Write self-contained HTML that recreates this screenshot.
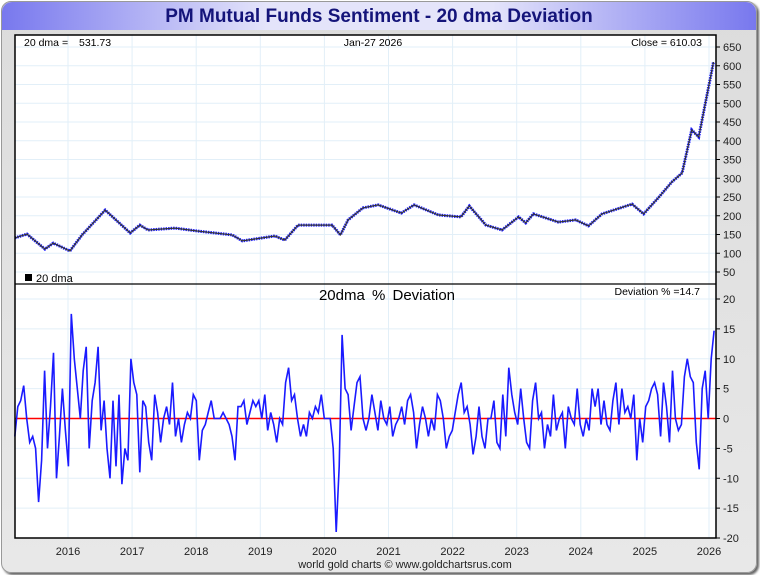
<!DOCTYPE html>
<html><head><meta charset="utf-8"><style>
body{margin:0;width:760px;height:575px;overflow:hidden;font-family:"Liberation Sans",sans-serif;background:#fff}
#frame{position:absolute;left:1px;top:1px;width:754px;height:570px;border-radius:10px;background:linear-gradient(#dcdcdc,#e8e8e8);border:1px solid #999;box-shadow:2px 2px 2px #666}
#title{position:absolute;left:0;top:0;width:754px;height:28px;border-radius:10px 10px 0 0;background:linear-gradient(90deg,#7878ee,#e4e4fa 35%,#e4e4fa 65%,#7878ee);text-align:center;font-weight:bold;font-size:19px;line-height:30px;color:#14147a}
svg{position:absolute;left:0;top:0}
</style></head><body>
<div id="frame"><div id="title">PM Mutual Funds Sentiment - 20 dma Deviation</div></div>
<svg id="c" width="760" height="575"></svg>
<script>
const priceYears=[2015.17,2015.36,2015.64,2015.77,2016.03,2016.22,2016.58,2016.97,2017.12,2017.25,2017.67,2018.03,2018.56,2018.72,2019.23,2019.38,2019.59,2020.12,2020.25,2020.37,2020.6,2020.84,2021.2,2021.4,2021.78,2022.13,2022.26,2022.52,2022.77,2023.03,2023.14,2023.26,2023.65,2023.92,2024.12,2024.33,2024.8,2024.98,2025.22,2025.42,2025.58,2025.73,2025.84,2026.07];
const priceVals=[141,151,111,127,106,149,215,154,175,162,167,159,149,133,146,135,175,175,149,189,221,229,207,229,202,197,226,175,162,197,181,205,183,189,173,205,231,205,250,290,314,429,410,610];
const devVals=[-3,2,3,5.5,0,-4,-3,-5,-14,-7,8,-5,2,11,-10,-3,5,-2,-8,17.5,10,5,0,8,12,-5,3,6,12,-2,3,-5,-10,3,-8,4,-11,-5,-7,10,6,4,-9,3,2,-4,-7,4,1,-4,0,2,-1,6,-3,0,-4,-1,1,0,4,3,-7,-2,-1,1,3,0,0,0,1,0,-1,-3,-7,2,2,3,-1,1,
3,2,3,0,4,-2,1,-1,-4,0,-1,6,8.5,3,4,0,-3,-1,-3,1,0,2,1,4,0,0,0,-5,-19,-8,14,5,4,-2,2,6,7,0,-2,0,4,1,-2,3,0,-1,2,-3,-1,0,2,-1,3,4,1,-5,-1,2,0,-3,0,-2,4,3,0,-5,-3,-2,1,4,6,1,2,-1,-6,-3,2,-3,-5,0,
0,3,-4,-5,4,-3,8.5,4,1,-1,5,0,-4,-5,3,6,0,1,-5,-1,-3,4,-2,0,1,-5,2,0,-1,5,-1,-3,0,-2,5,2,5,-1,3,-1,-2,3,6,-1,5,1,2,0,4,-7,0,-4,2,3,5,6,4,-3,6,2,-4,8,0,-2,-1,7,10,7,6,-4,-8.5,5,8,0,10,14.7];
const devStart=2015.17, devEnd=2026.08;
const yearTicks=[2016,2017,2018,2019,2020,2021,2022,2023,2024,2025,2026];
const priceTicks=[50,100,150,200,250,300,350,400,450,500,550,600,650];
const devTicks=[-20,-15,-10,-5,0,5,10,15,20];

const NS="http://www.w3.org/2000/svg",svg=document.getElementById('c');
function el(t,a,txt){const e=document.createElementNS(NS,t);for(const k in a)e.setAttribute(k,a[k]);if(txt!=null)e.textContent=txt;svg.appendChild(e);return e;}
const L=15,R=716;
const X=y=>68+(y-2016)*64.1;
const YP=v=>272-(v-50)*0.375;
const YD=v=>418.5-v*5.975;
el('rect',{x:L,y:35,width:R-L,height:503,fill:'#fff'});
yearTicks.forEach(t=>{const g=el('line',{x1:X(t),x2:X(t),y1:35,y2:538,stroke:'#e2eff8'});});
priceTicks.forEach(t=>{el('line',{x1:L,x2:R,y1:YP(t),y2:YP(t),stroke:'#e2eff8'});
 const tx=el('text',{x:723,y:YP(t)+4,'font-size':11,fill:'#222'},t);
 el('line',{x1:R,x2:R+4,y1:YP(t),y2:YP(t),stroke:'#000'});});
devTicks.forEach(t=>{el('line',{x1:L,x2:R,y1:YD(t),y2:YD(t),stroke:'#e2eff8'});
 const tx=el('text',{x:723,y:YD(t)+4,'font-size':11,fill:'#222'},t);
 el('line',{x1:R,x2:R+4,y1:YD(t),y2:YD(t),stroke:'#000'});});
yearTicks.forEach(t=>{const tx=el('text',{x:X(t),y:555,'font-size':11,fill:'#222','text-anchor':'middle'},t);});
let pp=priceYears.map((y,i)=>X(y).toFixed(1)+','+YP(priceVals[i]).toFixed(1)).join(' ');
const cl=el('polyline',{points:pp,fill:'none',stroke:'#1a1aff','stroke-width':3,'stroke-dasharray':'1.5 1'});

const dl=el('polyline',{points:pp,fill:'none',stroke:'#333','stroke-width':1.2});

el('line',{x1:L,x2:R,y1:YD(0),y2:YD(0),stroke:'#f00','stroke-width':1.5});
const n=devVals.length;
const dp=devVals.map((v,i)=>X(devStart+(devEnd-devStart)*i/(n-1)).toFixed(1)+','+YD(v).toFixed(1)).join(' ');
const dv=el('polyline',{points:dp,fill:'none',stroke:'#1a1aff','stroke-width':1.6});

el('rect',{x:L,y:35,width:R-L,height:503,fill:'none',stroke:'#000','stroke-width':1.5});
el('line',{x1:L,x2:R,y1:284,y2:284,stroke:'#000','stroke-width':1.2});
const t1=el('text',{x:24,y:46,'font-size':10.5,fill:'#000'},'20 dma =');
const t1b=el('text',{x:79,y:46,'font-size':10.5,fill:'#000'},'531.73');
const t2=el('text',{x:373,y:46,'font-size':10.5,fill:'#000','text-anchor':'middle'},'Jan-27  2026');
const t3=el('text',{x:702,y:46,'font-size':10.5,fill:'#000','text-anchor':'end'},'Close = 610.03');
el('rect',{x:25,y:274,width:7,height:7,fill:'#000'});
const t4=el('text',{x:36,y:282,'font-size':11,fill:'#000'},'20 dma');
const t5=el('text',{x:387,y:300,'font-size':15,fill:'#000','text-anchor':'middle','word-spacing':'3'},'20dma % Deviation');
const t6=el('text',{x:700,y:295,'font-size':10.5,fill:'#000','text-anchor':'end'},'Deviation % =14.7');
const t7=el('text',{x:405,y:568,'font-size':11,fill:'#222','text-anchor':'middle'},'world gold charts © www.goldchartsrus.com');
</script>
</body></html>
